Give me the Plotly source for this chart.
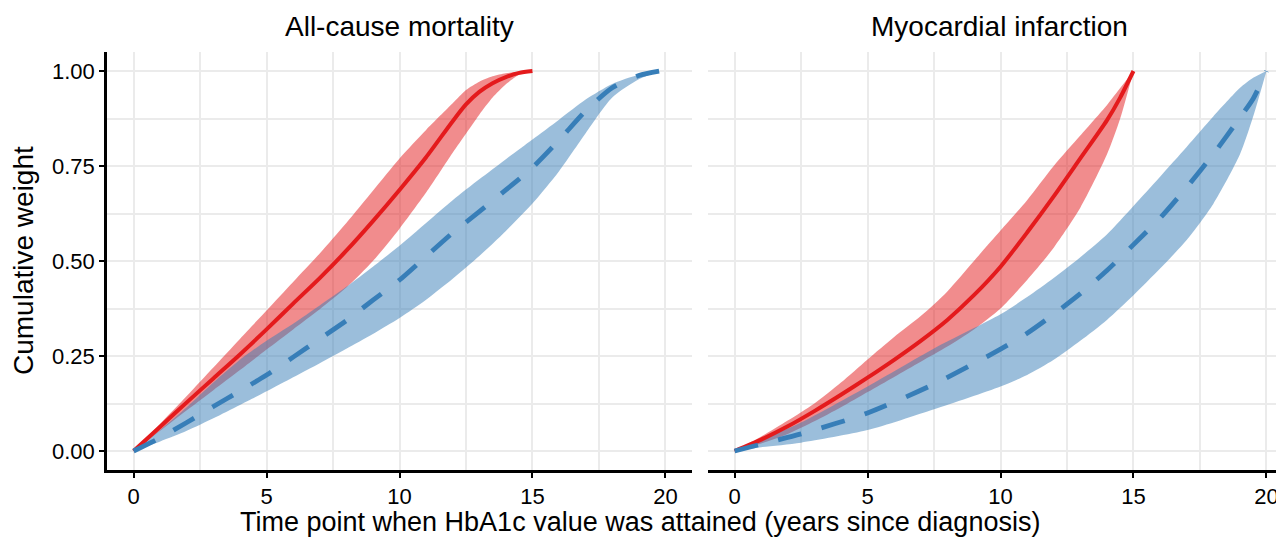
import plotly.graph_objects as go

# ---------------- data ----------------
# All-cause mortality panel
acm_red_x = [0, 1, 2, 3, 4, 5, 6, 7, 8, 9, 10, 11, 12, 12.5, 13, 13.5, 14, 14.5, 15]
acm_red_y = [0, .064, .128, .191, .254, .32, .388, .455, .527, .605, .687, .773, .868, .912, .945, .968, .984, .995, 1.0]
acm_red_hi = [0, .072, .145, .22, .295, .37, .445, .52, .60, .685, .77, .845, .915, .95, .972, .986, .994, .998, 1.0]
acm_red_lo = [0, .053, .107, .16, .213, .267, .32, .373, .43, .50, .585, .68, .785, .835, .885, .93, .965, .99, 1.0]

acm_blue_x = [0, 1, 2, 3, 4, 5, 6, 7, 8, 9, 10, 11, 12, 13, 14, 15, 16, 17, 18, 19, 19.8]
acm_blue_y = [0, .035, .075, .117, .158, .20, .247, .295, .343, .397, .45, .512, .574, .63, .687, .746, .818, .895, .956, .988, 1.0]
acm_blue_hi = [0, .055, .115, .18, .24, .29, .335, .383, .432, .485, .54, .60, .66, .715, .768, .82, .872, .925, .966, .99, 1.0]
acm_blue_lo = [0, .025, .053, .086, .121, .157, .194, .231, .269, .308, .35, .398, .453, .513, .579, .651, .736, .836, .93, .978, 1.0]

# Myocardial infarction panel
mi_red_x = [0, 1, 2, 3, 4, 5, 6, 7, 8, 9, 10, 11, 12, 13, 14, 14.5, 15]
mi_red_y = [0, .03, .065, .105, .148, .193, .24, .29, .345, .41, .485, .575, .67, .77, .87, .93, 1.0]
mi_red_hi = [0, .038, .08, .125, .18, .241, .30, .355, .42, .50, .58, .66, .75, .83, .91, .955, 1.0]
mi_red_lo = [0, .02, .045, .078, .115, .155, .195, .235, .275, .32, .375, .45, .535, .64, .78, .875, 1.0]

mi_blue_x = [0, 1, 2.5, 5, 7.5, 10, 11, 12, 13, 14, 15, 16, 17, 18, 19, 19.5, 20]
mi_blue_y = [0, .018, .045, .10, .176, .268, .31, .36, .414, .475, .543, .613, .694, .781, .877, .927, 1.0]
mi_blue_hi = [0, .03, .075, .17, .27, .36, .405, .455, .51, .57, .645, .722, .80, .88, .955, .982, 1.0]
mi_blue_lo = [0, .01, .022, .055, .11, .17, .20, .24, .29, .345, .41, .48, .555, .65, .78, .88, 1.0]

panel_titles = ["All-cause mortality", "Myocardial infarction"]
x_title = "Time point when HbA1c value was attained (years since diagnosis)"
y_title = "Cumulative weight"
x_ticks = [0, 5, 10, 15, 20]
y_ticks = [0, 0.25, 0.5, 0.75, 1.0]

RED = "#E41A1C"
BLUE = "#377EB8"
RED_FILL = "rgba(228,26,28,0.5)"
BLUE_FILL = "rgba(55,126,184,0.5)"
FONT = "Liberation Sans, Arial, Helvetica, sans-serif"

# page body has an 8px margin, so the figure is 8px smaller and shifted
OFF = 8
W, H = 1284 - OFF, 538 - OFF
ML, MR = 0, 0
MT = 52 - OFF
MB = H - (470 - OFF)

fig = go.Figure()


def add_panel(xa, ya, rx, ry, rhi, rlo, bx, by, bhi, blo):
    common = dict(xaxis=xa, yaxis=ya, showlegend=False, hoverinfo="skip", mode="lines")
    sp = dict(shape="spline", smoothing=0.7)
    fig.add_trace(go.Scatter(x=rx, y=rlo, line=dict(width=0, **sp), **common))
    fig.add_trace(go.Scatter(x=rx, y=rhi, fill="tonexty", fillcolor=RED_FILL,
                             line=dict(width=0, **sp), **common))
    fig.add_trace(go.Scatter(x=bx, y=blo, line=dict(width=0, **sp), **common))
    fig.add_trace(go.Scatter(x=bx, y=bhi, fill="tonexty", fillcolor=BLUE_FILL,
                             line=dict(width=0, **sp), **common))
    fig.add_trace(go.Scatter(x=rx, y=ry, line=dict(color=RED, width=4, **sp), **common))
    fig.add_trace(go.Scatter(x=bx, y=by, line=dict(color=BLUE, width=4.8, dash="24px,21px", **sp), **common))


add_panel("x", "y", acm_red_x, acm_red_y, acm_red_hi, acm_red_lo,
          acm_blue_x, acm_blue_y, acm_blue_hi, acm_blue_lo)
add_panel("x2", "y2", mi_red_x, mi_red_y, mi_red_hi, mi_red_lo,
          mi_blue_x, mi_blue_y, mi_blue_hi, mi_blue_lo)

PW = W - ML - MR
PH = H - MT - MB


def sx(p):  # screen px -> paper x
    return (p - OFF - ML) / PW


def sy(p):  # screen px -> paper y
    return (H - MB - (p - OFF)) / PH


grid = "#EBEBEB"
xcommon = dict(
    tickvals=x_ticks, ticktext=[str(v) for v in x_ticks],
    showgrid=True, gridcolor=grid, gridwidth=1.8,
    minor=dict(dtick=2.5, tick0=0, showgrid=True, gridcolor=grid, gridwidth=1.8, ticks=""),
    zeroline=False, showline=True, linecolor="black", linewidth=2.5,
    ticks="outside", ticklen=5, tickwidth=1.5, tickcolor="black",
    tickfont=dict(family=FONT, size=22, color="black"),
    fixedrange=True,
)
ycommon = dict(
    range=[-0.05, 1.05], tickvals=y_ticks,
    showgrid=True, gridcolor=grid, gridwidth=1.8,
    minor=dict(dtick=0.125, tick0=0, showgrid=True, gridcolor=grid, gridwidth=1.8, ticks=""),
    zeroline=False, fixedrange=True,
)

fig.update_layout(
    width=W, height=H,
    margin=dict(l=ML, r=MR, t=MT, b=MB),
    paper_bgcolor="white", plot_bgcolor="white",
    font=dict(family=FONT, color="black"),
    xaxis=dict(domain=[sx(107), sx(692)], range=[-1, 21], anchor="y", **xcommon),
    xaxis2=dict(domain=[sx(708), 1.0], range=[-1, 20.66], anchor="y2", **xcommon),
    yaxis=dict(anchor="x", showline=True, linecolor="black", linewidth=2.5,
               ticks="outside", ticklen=5, tickwidth=1.5, tickcolor="black",
               tickformat=".2f", tickfont=dict(family=FONT, size=22, color="black"), **ycommon),
    yaxis2=dict(anchor="x2", showline=False, showticklabels=False, ticks="", **ycommon),
)

ann = dict(xref="paper", yref="paper", showarrow=False)
fig.add_annotation(x=sx(399.5), y=sy(26), text=panel_titles[0], xanchor="center", yanchor="middle",
                   font=dict(family=FONT, size=28, color="black"), **ann)
fig.add_annotation(x=sx(1000), y=sy(26), text=panel_titles[1], xanchor="center", yanchor="middle",
                   font=dict(family=FONT, size=28, color="black"), **ann)
fig.add_annotation(x=sx(640), y=sy(522), text=x_title, xanchor="center", yanchor="middle",
                   font=dict(family=FONT, size=27, color="black"), **ann)
fig.add_annotation(x=sx(23), y=sy(261), text=y_title, textangle=-90, xanchor="center", yanchor="middle",
                   font=dict(family=FONT, size=28, color="black"), **ann)

fig.write_html("out.html")
